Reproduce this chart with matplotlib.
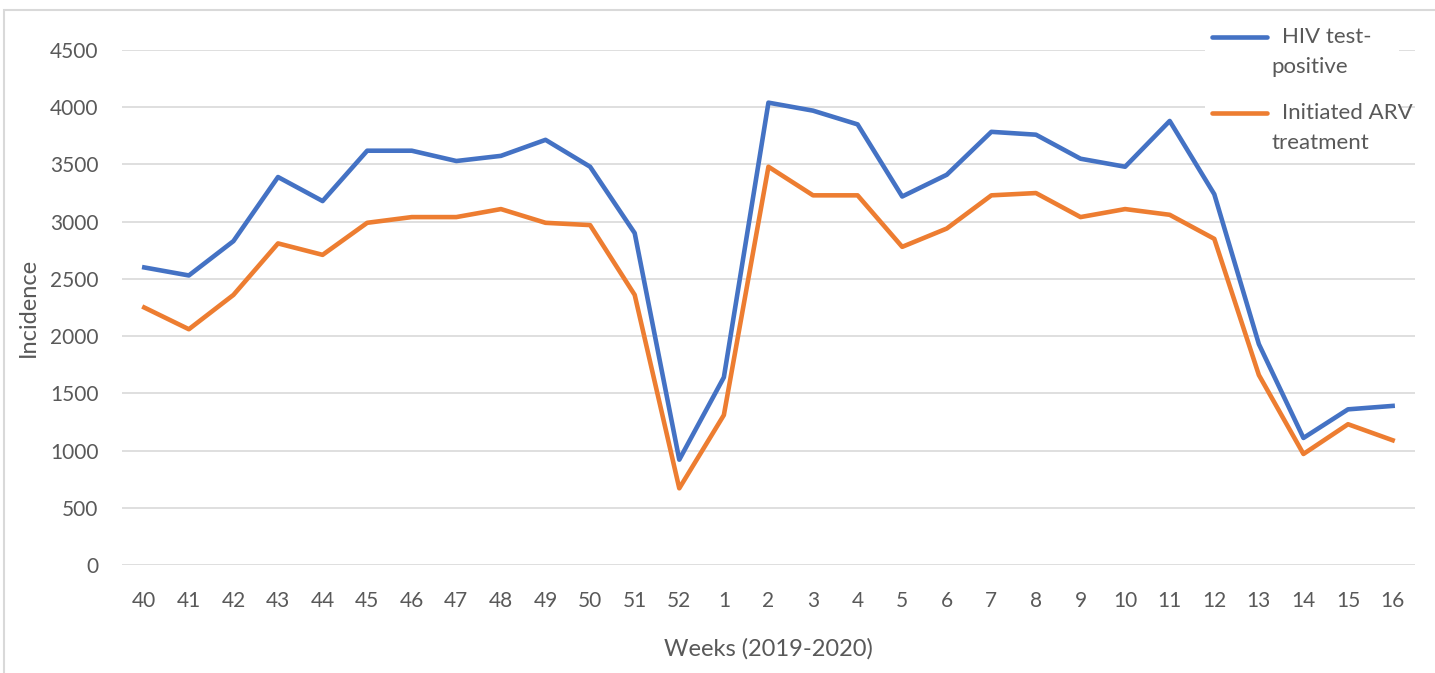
import matplotlib.pyplot as plt
import matplotlib.patches as patches
import numpy as np

# Weekly counts
weeks = ['40', '41', '42', '43', '44', '45', '46', '47', '48', '49', '50', '51', '52',
         '1', '2', '3', '4', '5', '6', '7', '8', '9', '10', '11', '12', '13', '14', '15', '16']
hiv_positive = [2600, 2530, 2830, 3390, 3180, 3620, 3620, 3530, 3575, 3715, 3480, 2900, 920,
                1640, 4040, 3970, 3850, 3220, 3410, 3785, 3760, 3550, 3480, 3880, 3240, 1930, 1110, 1360, 1390]
arv_initiated = [2250, 2060, 2360, 2810, 2710, 2990, 3040, 3040, 3110, 2990, 2970, 2360, 670,
                 1310, 3480, 3230, 3230, 2780, 2940, 3230, 3250, 3040, 3110, 3060, 2850, 1660, 970, 1230, 1090]
series_names = [('HIV test-', 'positive'), ('Initiated ARV', 'treatment')]
series_colors = ['#4472C4', '#ED7D31']

plt.rcParams["font.family"] = ["Lato", "DejaVu Sans"]
txt = '#595959'

fig = plt.figure(figsize=(14.35, 6.73), dpi=100)
ax = fig.add_axes([0.085, 0.1605, 0.901, 0.7652])

x = np.arange(len(weeks))
for vals, c in zip([hiv_positive, arv_initiated], series_colors):
    ax.plot(x, vals, color=c, linewidth=3.3, solid_joinstyle='round', zorder=3)

ax.set_xlim(-0.5, len(weeks) - 0.5)
ax.set_ylim(0, 4500)
ax.set_yticks(np.arange(0, 4501, 500))
ax.set_xticks(x)
ax.set_xticklabels(weeks)
ax.tick_params(length=0, labelsize=15, labelcolor=txt)
ax.tick_params(axis='x', pad=19)
ax.tick_params(axis='y', pad=17)
ax.grid(axis='y', color='#D9D9D9', linewidth=1.2)
ax.set_axisbelow(True)
for s in ax.spines.values():
    s.set_visible(False)

ax.set_xlabel('Weeks (2019-2020)', fontsize=17, color=txt, labelpad=19)
ax.set_ylabel('Incidence', fontsize=17, color=txt, labelpad=8)

# Legend drawn by hand (Excel style: swatch beside the first line of text)
ax.add_patch(patches.Rectangle((0.838, 0.79), 0.15, 0.25, transform=ax.transAxes,
                               facecolor='white', edgecolor='none', zorder=2, clip_on=False))
leg_y = [1.025, 0.878]
for (l1, l2), c, y in zip(series_names, series_colors, leg_y):
    ax.plot([0.843, 0.8855], [y, y], transform=ax.transAxes, color=c, linewidth=3.3,
            solid_capstyle='round', clip_on=False, zorder=4)
    ax.text(0.897, y, l1, transform=ax.transAxes, fontsize=16, color=txt, va='center', ha='left')
    ax.text(0.889, y - 0.058, l2, transform=ax.transAxes, fontsize=16, color=txt, va='center', ha='left')

# thin border around the chart area
fig.patches.append(patches.Rectangle((4 / 1435, -0.1), 1.2, 1 - 10 / 673 + 0.1, transform=fig.transFigure,
                                     fill=False, edgecolor='#D9D9D9', linewidth=1.5))

fig.savefig('out.png', dpi=100)
